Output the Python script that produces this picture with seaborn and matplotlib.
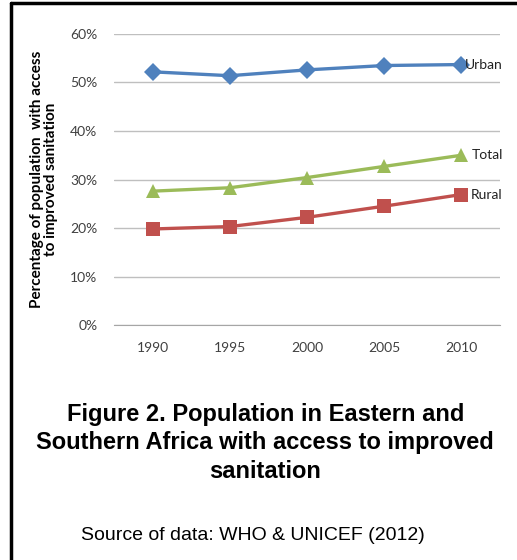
import pandas as pd
import matplotlib.pyplot as plt
import seaborn as sns

# data
years = ['1990', '1995', '2000', '2005', '2010']
urban = [0.522, 0.514, 0.526, 0.535, 0.537]
total = [0.276, 0.283, 0.304, 0.327, 0.350]
rural = [0.198, 0.203, 0.222, 0.245, 0.269]
series_names = ['Urban', 'Total', 'Rural']

podaci = pd.DataFrame({
    'year': years * 3,
    'value': urban + total + rural,
    'series': [s for s in series_names for _ in years],
})

sns.set_style('white')
plt.rcParams['font.family'] = ['Lato', 'DejaVu Sans']

fig = plt.figure(figsize=(5.17, 5.6), dpi=100)
ax = fig.add_axes([0.2205, 0.4196, 0.7465, 0.5197])

boje = {'Urban': '#4F81BD', 'Total': '#9BBB59', 'Rural': '#C0504D'}
markeri = {'Urban': 'D', 'Total': '^', 'Rural': 's'}
sns.lineplot(data=podaci, x='year', y='value', hue='series', style='series',
             palette=boje, markers=markeri, dashes=False, linewidth=2.4,
             markersize=9.5, markeredgewidth=0, legend=False, ax=ax, zorder=3)

ax.set_ylim(0, 0.6)
ax.set_xlim(-0.5, 4.5)
ax.set_yticks([0, 0.1, 0.2, 0.3, 0.4, 0.5, 0.6])
ax.set_yticklabels(['0%', '10%', '20%', '30%', '40%', '50%', '60%'])
ax.yaxis.grid(True, color='#bfbfbf', linewidth=1)
ax.set_axisbelow(True)
for side in ['left', 'right', 'top']:
    ax.spines[side].set_visible(False)
ax.spines['bottom'].set_color('#a6a6a6')
ax.tick_params(axis='y', length=0, labelsize=10, labelcolor='#404040', pad=12)
ax.tick_params(axis='x', length=0, labelsize=10, labelcolor='#404040', pad=12)
ax.set_xticks([-0.5, 0.5, 1.5, 2.5, 3.5, 4.5], minor=True)
ax.tick_params(axis='x', which='minor', length=5, color='#a6a6a6', direction='out')
ax.set_xlabel('')
ax.set_ylabel('Percentage of population  with access\nto improved sanitation',
              fontsize=11, fontweight='bold', color='black', labelpad=9,
              linespacing=0.95)

# oznake serija
ax.text(4.05, urban[-1], 'Urban', fontsize=10, va='center', ha='left', color='#222222')
ax.text(4.14, total[-1], 'Total', fontsize=10, va='center', ha='left', color='#222222')
ax.text(4.12, rural[-1], 'Rural', fontsize=10, va='center', ha='left', color='#222222')

# okvir
fig.add_artist(plt.Line2D([0.021, 0.021], [0, 0.995], color='black', linewidth=2.5))
fig.add_artist(plt.Line2D([0.021, 1.0], [0.995, 0.995], color='black', linewidth=2.5))

fig.text(0.513, 0.209, 'Figure 2. Population in Eastern and\nSouthern Africa with access to improved\nsanitation',
         ha='center', va='center', fontsize=17, fontweight='bold', color='black',
         family='Liberation Sans', linespacing=1.32)
fig.text(0.489, 0.043, 'Source of data: WHO & UNICEF (2012)', ha='center', va='center',
         fontsize=14, family='Liberation Sans', color='black')

fig.savefig('out.png', dpi=100)
